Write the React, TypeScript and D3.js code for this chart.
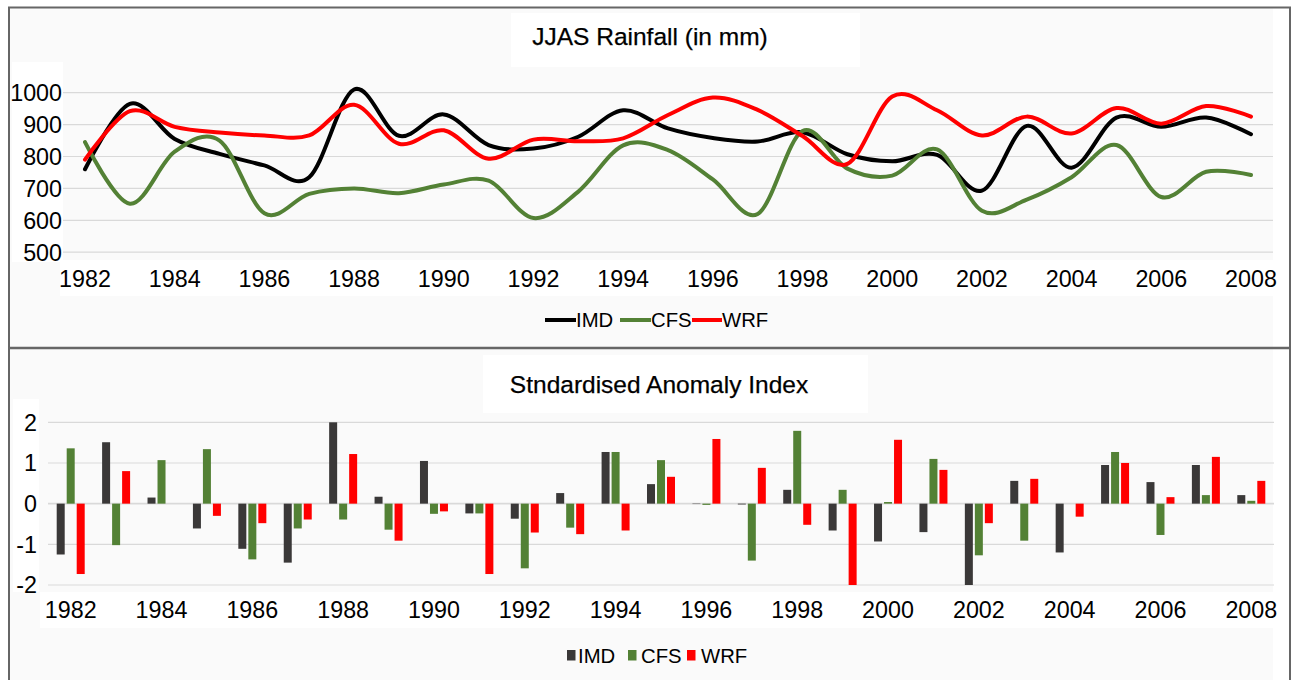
import React from "react";
import * as d3 from "d3";

// JJAS (June–September) rainfall totals, 1982–2008, in mm
const years: number[] = d3.range(1982, 2009);
const imdRain: number[] = [760, 965, 855, 808, 772, 735, 1010, 865, 932, 836, 825, 862, 945, 888, 858, 847, 876, 807, 785, 805, 693, 896, 765, 922, 893, 922, 870];
const cfsRain: number[] = [845, 652, 815, 850, 622, 683, 700, 685, 712, 724, 607, 690, 835, 820, 728, 620, 880, 762, 740, 822, 630, 665, 735, 836, 673, 752, 742];
const wrfRain: number[] = [790, 942, 893, 875, 866, 866, 962, 840, 882, 793, 853, 848, 857, 930, 985, 946, 864, 777, 988, 945, 866, 925, 872, 952, 903, 958, 925];

// Standardised anomaly index per year
const imdIdx: number[] = [-1.25, 1.51, 0.15, -0.61, -1.11, -1.45, 2.0, 0.17, 1.05, -0.24, -0.37, 0.26, 1.27, 0.48, -0.01, -0.02, 0.34, -0.66, -0.93, -0.7, -2.0, 0.56, -1.2, 0.95, 0.53, 0.95, 0.21];
const cfsIdx: number[] = [1.36, -1.02, 1.07, 1.34, -1.37, -0.61, -0.39, -0.64, -0.25, -0.24, -1.59, -0.59, 1.27, 1.07, -0.03, -1.4, 1.79, 0.34, 0.04, 1.1, -1.27, -0.91, 0, 1.27, -0.77, 0.21, 0.07];
const wrfIdx: number[] = [-1.73, 0.8, 0, -0.3, -0.48, -0.39, 1.22, -0.91, -0.19, -1.73, -0.71, -0.75, -0.66, 0.66, 1.59, 0.88, -0.52, -2.0, 1.57, 0.83, -0.48, 0.61, -0.32, 1.0, 0.16, 1.15, 0.56];

const seriesNames: string[] = ["IMD", "CFS", "WRF"];
const rainTicks: number[] = [500, 600, 700, 800, 900, 1000];
const idxTicks: number[] = [-2, -1, 0, 1, 2];
const labelYears: number[] = years.filter((y) => (y - 1982) % 2 === 0);

const lineColors: Record<string, string> = { IMD: "#000000", CFS: "#538135", WRF: "#ff0000" };
const barColors: Record<string, string> = { IMD: "#3a3838", CFS: "#538135", WRF: "#ff0000" };

const FONT = "'Liberation Sans', Arial, Helvetica, sans-serif";

export default function App() {
  const W = 1291;
  const H = 680;

  // ---- top panel: smoothed rainfall lines ----
  const xLine = d3.scalePoint<number>().domain(years).range([85, 1251]);
  const yRain = d3.scaleLinear().domain([500, 1000]).range([252.2, 92.7]);
  const rainSeries: Record<string, number[]> = { IMD: imdRain, CFS: cfsRain, WRF: wrfRain };
  const lineGen = d3
    .line<number>()
    .x((_, i) => xLine(years[i]) as number)
    .y((d) => yRain(d))
    .curve(d3.curveCardinal.tension(0));

  // ---- bottom panel: grouped bars ----
  const xBand = d3.scaleBand<number>().domain(years).range([48, 1274]).padding(0);
  const xInner = d3.scaleBand<string>().domain(seriesNames).range([-14, 14]).paddingInner(0.2);
  const yIdx = d3.scaleLinear().domain([-2, 2]).range([585, 422.3]);
  const idxSeries: Record<string, number[]> = { IMD: imdIdx, CFS: cfsIdx, WRF: wrfIdx };

  const topLegend = [
    { name: "IMD", x0: 545, x1: 576 },
    { name: "CFS", x0: 620, x1: 651 },
    { name: "WRF", x0: 692, x1: 722 },
  ];
  const bottomLegend = [
    { name: "IMD", x: 567, tx: 578 },
    { name: "CFS", x: 628, tx: 641 },
    { name: "WRF", x: 687, tx: 701 },
  ];

  return (
    <svg width={W} height={H} style={{ position: "absolute", left: 0, top: 0 }} fontFamily={FONT}>
      <rect x={0} y={0} width={W} height={H} fill="#ffffff" />
      {/* panel backgrounds */}
      <rect x={9} y={8} width={1264} height={339} fill="#fafafa" />
      <rect x={9} y={349} width={1264} height={331} fill="#fafafa" />

      {/* white label boxes, top panel */}
      <rect x={511} y={13} width={349} height={54} fill="#ffffff" />
      <rect x={12} y={62} width={51} height={200} fill="#ffffff" />
      <rect x={60} y={260} width={1213} height={36} fill="#ffffff" />
      {/* white label boxes, bottom panel */}
      <rect x={483} y={355} width={385} height={58} fill="#ffffff" />
      <rect x={13} y={399} width={26} height={193} fill="#ffffff" />
      <rect x={40} y={592} width={1233} height={36} fill="#ffffff" />

      {/* ===== Top chart ===== */}
      <text x={650} y={45} textAnchor="middle" fontSize={24.5} fill="#000" stroke="#000" strokeWidth={0.25}>
        JJAS Rainfall (in mm)
      </text>
      {rainTicks.map((t) => (
        <g key={`rg${t}`}>
          <line x1={63} x2={1273} y1={yRain(t)} y2={yRain(t)} stroke="#d9d9d9" strokeWidth={1.2} />
          <text x={62} y={yRain(t) + 8.3} textAnchor="end" fontSize={23.3} fill="#000">
            {t}
          </text>
        </g>
      ))}
      {labelYears.map((yr) => (
        <text key={`rx${yr}`} x={xLine(yr) as number} y={287} textAnchor="middle" fontSize={23.3} fill="#000">
          {yr}
        </text>
      ))}
      {seriesNames.map((name) => (
        <path
          key={`line${name}`}
          d={lineGen(rainSeries[name]) || ""}
          fill="none"
          stroke={lineColors[name]}
          strokeWidth={4}
          strokeLinejoin="round"
          strokeLinecap="round"
        />
      ))}
      {topLegend.map((l) => (
        <g key={`tl${l.name}`}>
          <line x1={l.x0} x2={l.x1} y1={320} y2={320} stroke={lineColors[l.name]} strokeWidth={4} />
          <text x={l.x1} y={327} fontSize={20.3} fill="#000">
            {l.name}
          </text>
        </g>
      ))}

      {/* ===== Bottom chart ===== */}
      <text x={659} y={393} textAnchor="middle" fontSize={24.5} fill="#000" stroke="#000" strokeWidth={0.25}>
        Stndardised Anomaly Index
      </text>
      {idxTicks.map((t) => (
        <g key={`ig${t}`}>
          <line x1={48} x2={1274} y1={yIdx(t)} y2={yIdx(t)} stroke="#d9d9d9" strokeWidth={t === 0 ? 1.8 : 1.2} />
          <text x={37} y={yIdx(t) + 8.3} textAnchor="end" fontSize={23.3} fill="#000">
            {t}
          </text>
        </g>
      ))}
      {labelYears.map((yr) => (
        <text
          key={`ix${yr}`}
          x={(xBand(yr) as number) + xBand.bandwidth() / 2}
          y={618}
          textAnchor="middle"
          fontSize={23.3}
          fill="#000"
        >
          {yr}
        </text>
      ))}
      {years.map((yr, i) => {
        const cx = (xBand(yr) as number) + xBand.bandwidth() / 2;
        return (
          <g key={`bars${yr}`}>
            {seriesNames.map((name) => {
              const v = idxSeries[name][i];
              const y0 = yIdx(0);
              const y1 = yIdx(v);
              return (
                <rect
                  key={name}
                  x={cx + (xInner(name) as number)}
                  width={xInner.bandwidth()}
                  y={Math.min(y0, y1)}
                  height={Math.abs(y1 - y0)}
                  fill={barColors[name]}
                />
              );
            })}
          </g>
        );
      })}
      {bottomLegend.map((l) => (
        <g key={`bl${l.name}`}>
          <rect x={l.x} y={650} width={8.5} height={10.5} fill={barColors[l.name]} />
          <text x={l.tx} y={662.5} fontSize={20.3} fill="#000">
            {l.name}
          </text>
        </g>
      ))}

      {/* frame and divider */}
      <line x1={9} x2={9} y1={7} y2={680} stroke="#666666" strokeWidth={2} />
      <line x1={1290} x2={1290} y1={7} y2={680} stroke="#666666" strokeWidth={2} />
      <line x1={8} x2={1291} y1={7.5} y2={7.5} stroke="#666666" strokeWidth={2} />
      <line x1={8} x2={1291} y1={348} y2={348} stroke="#666666" strokeWidth={2.5} />
    </svg>
  );
}
